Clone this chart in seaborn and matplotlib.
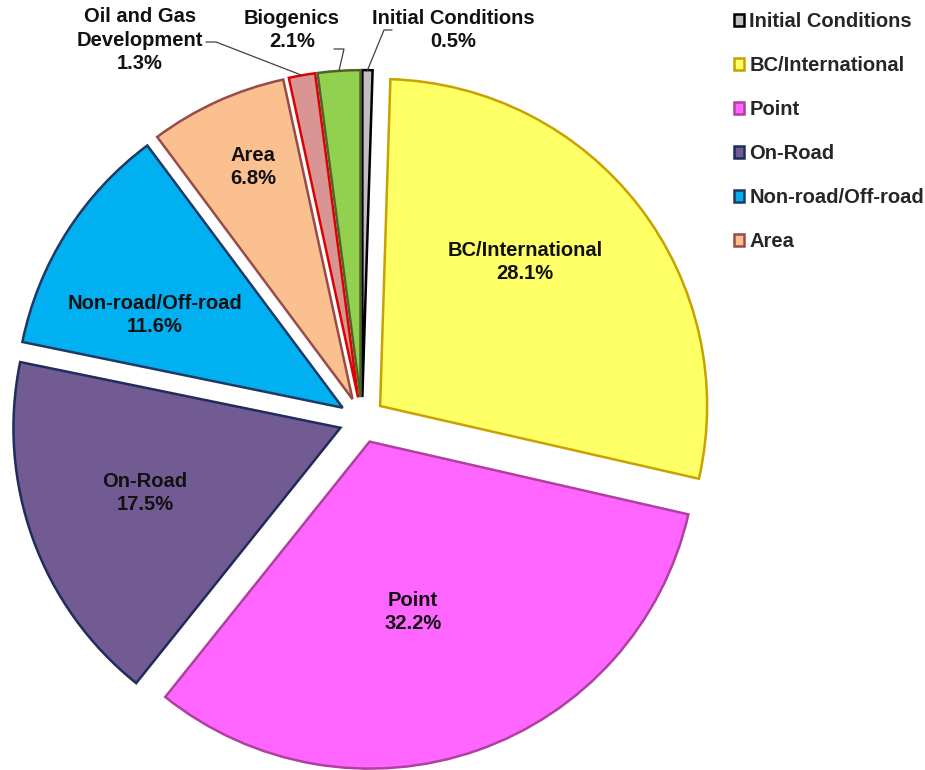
import numpy as np
import matplotlib
matplotlib.use('Agg')
import matplotlib.pyplot as plt
import seaborn as sns

sources = ['Initial Conditions', 'BC/International', 'Point', 'On-Road',
           'Non-road/Off-road', 'Area', 'Oil and Gas\nDevelopment', 'Biogenics']
shares = [0.5, 28.1, 32.2, 17.5, 11.6, 6.8, 1.3, 2.1]
legend_count = 6

face_colors = ['#BFBFBF', '#FFFF66', '#FF66FF', '#725A93',
               '#00B0F0', '#FAC090', '#D99594', '#92D050']
edge_colors = ['#000000', '#C8A200', '#B040A0', '#1F2D5A',
               '#1F3864', '#984B48', '#E00000', '#4F6228']

sns.set_theme(style='white')
plt.rcParams['font.family'] = ['Liberation Sans', 'DejaVu Sans']

fig = plt.figure(figsize=(9.25, 7.7), dpi=100)
ax = fig.add_axes([0, 0, 1, 1])

wedges, _ = ax.pie(shares, colors=face_colors, startangle=90, counterclock=False,
                   explode=[0.07] * len(shares), radius=1.0,
                   wedgeprops=dict(linewidth=1.8))
for w, ec in zip(wedges, edge_colors):
    w.set_edgecolor(ec)

# label positions (data units, pie radius = 1)
inside_pos = {1: (0.498, 0.483), 2: (0.156, -0.587), 3: (-0.664, -0.223),
              4: (-0.633, 0.321), 5: (-0.333, 0.774)}
outside_pos = {6: (-0.679, 1.162), 7: (-0.214, 1.193), 0: (0.278, 1.193)}

for i, (name, val) in enumerate(zip(sources, shares)):
    txt = f'{name}\n{val:.1f}%'
    pos = inside_pos.get(i, outside_pos.get(i))
    ax.text(pos[0], pos[1], txt, ha='center', va='center', fontsize=14.5,
            fontweight='bold', color='#111111', linespacing=1.3)


def outer_mid(w):
    t = np.deg2rad((w.theta1 + w.theta2) / 2)
    return w.center[0] + w.r * np.cos(t), w.center[1] + w.r * np.sin(t)


def px(x, y):
    return (x - 362) / 327, (420 - y) / 327


leaders = {6: [px(206, 42), px(216, 42)],
           7: [px(334, 49), px(344, 49)],
           0: [px(392, 30), px(384, 30)]}
for i, pts in leaders.items():
    end = outer_mid(wedges[i])
    xs = [p[0] for p in pts] + [end[0]]
    ys = [p[1] for p in pts] + [end[1]]
    ax.plot(xs, ys, color='#404040', linewidth=0.9)

ax.legend(wedges[:legend_count], [s for s in sources[:legend_count]],
          loc='upper left', bbox_to_anchor=(0.783, 0.997), bbox_transform=fig.transFigure,
          frameon=False, borderpad=0, prop=dict(size=14.5, weight='bold'),
          handlelength=0.5, handleheight=0.5, handletextpad=0.25, labelspacing=1.24)

ax.set_xlim(-362 / 327, (925 - 362) / 327)
ax.set_ylim(-(770 - 420) / 327, 420 / 327)
ax.set_aspect('equal', adjustable='datalim')
ax.axis('off')

fig.savefig('out.png', dpi=100, facecolor='white')
